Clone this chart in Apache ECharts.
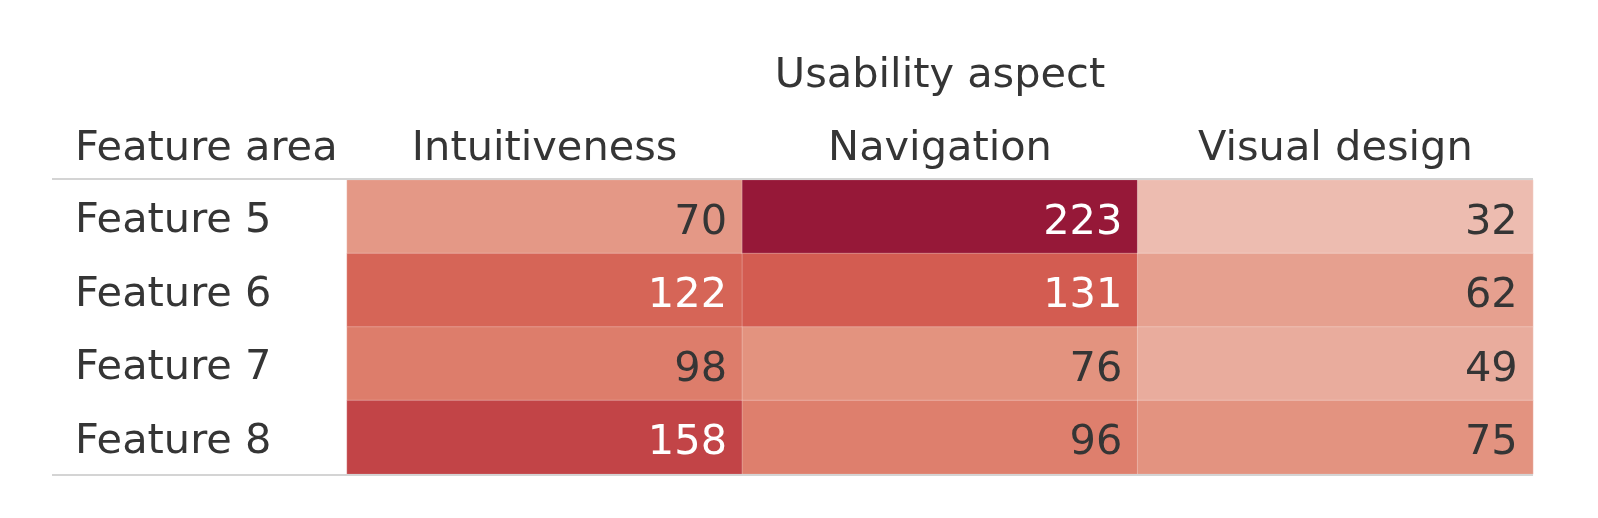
<!DOCTYPE html>
<html><head><meta charset="utf-8">
<script src="https://cdn.jsdelivr.net/npm/echarts@6/dist/echarts.min.js"></script>
<style>html,body{margin:0;padding:0;background:#fff}#c{width:1598px;height:518px}</style>
</head><body><div id="c"></div>
<script>
const columns = ['Intuitiveness', 'Navigation', 'Visual design'];
const rows = ['Feature 5', 'Feature 6', 'Feature 7', 'Feature 8'];
const intuitiveness = [70, 122, 98, 158];
const navigation = [223, 131, 76, 96];
const visualDesign = [32, 62, 49, 75];
const columnTitle = 'Usability aspect';
const rowTitle = 'Feature area';

const FONT = 'DejaVu Sans';
const FS = 41.5;
const TXT = '#353535';
const series = [intuitiveness, navigation, visualDesign];
const data = [];
series.forEach((vals, ci) => vals.forEach((v, ri) => data.push([ci, ri, v])));

const chart = echarts.init(document.getElementById('c'));
chart.setOption({
  animation: false,
  textStyle: { fontFamily: FONT },
  grid: { left: 347, right: 65, top: 180, bottom: 44 },
  xAxis: {
    type: 'category', data: columns, position: 'top',
    axisLine: { show: false }, axisTick: { show: false }, splitLine: { show: false },
    axisLabel: { color: TXT, fontSize: FS, fontFamily: FONT, margin: 10 },
    name: columnTitle, nameLocation: 'middle', nameGap: 83,
    nameTextStyle: { color: TXT, fontSize: FS, fontFamily: FONT }
  },
  yAxis: {
    type: 'category', data: rows, inverse: true,
    axisLine: { show: false }, axisTick: { show: false }, splitLine: { show: false },
    axisLabel: { color: TXT, fontSize: FS, fontFamily: FONT, align: 'left', margin: 272, verticalAlign: 'top', lineHeight: 9 }
  },
  visualMap: {
    show: false, type: 'continuous', min: 32, max: 223, dimension: 2,
    inRange: { color: ['#edbcb0', '#e28f7b', '#d55f52', '#b73541', '#961838'] }
  },
  graphic: [
    { type: 'text', left: 75, top: 128, style: { text: rowTitle, fill: TXT, font: FS + 'px "' + FONT + '"' } },
    { type: 'line', shape: { x1: 52, y1: 179, x2: 1533, y2: 179 }, style: { stroke: '#d4d4d4', lineWidth: 2 }, z: 10 },
    { type: 'line', shape: { x1: 52, y1: 475, x2: 1533, y2: 475 }, style: { stroke: '#d4d4d4', lineWidth: 2 }, z: 10 }
  ],
  series: [{
    type: 'heatmap', data: data,
    itemStyle: { borderColor: 'rgba(255,255,255,0.25)', borderWidth: 1 },
    label: {
      show: true, position: 'insideRight', distance: 16, offset: [0, 6],
      fontSize: FS, fontFamily: FONT,
      formatter: p => (p.value[2] > 110 ? '{w|' : '{d|') + p.value[2] + '}',
      rich: {
        w: { color: '#ffffff', fontSize: FS, fontFamily: FONT },
        d: { color: TXT, fontSize: FS, fontFamily: FONT }
      }
    }
  }]
});
</script></body></html>
